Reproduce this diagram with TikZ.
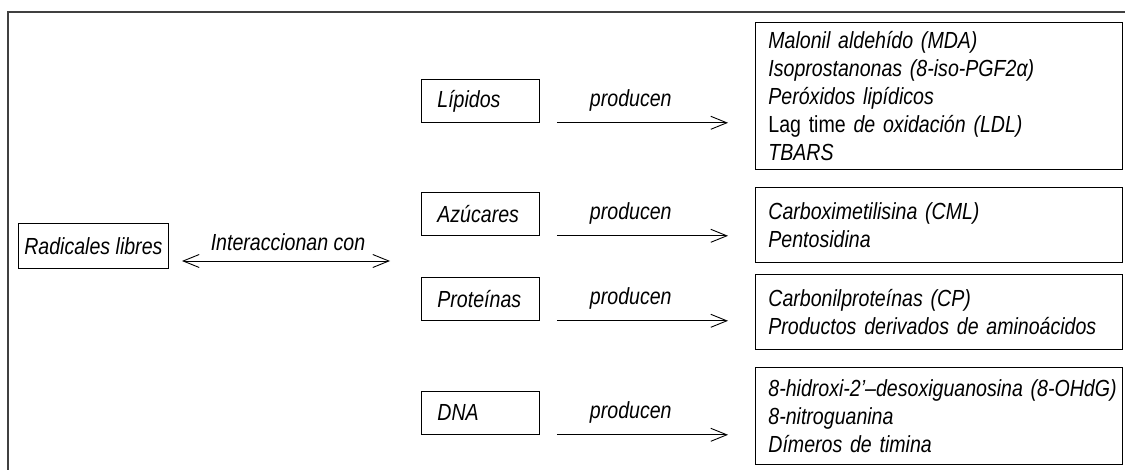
\documentclass[tikz,border=0pt]{standalone}
\usepackage{fontspec}
\setmainfont{Liberation Sans}[FakeStretch=0.84]
\usetikzlibrary{arrows.meta}
\tikzset{
  every node/.style={font=\fontsize{23.3}{28}\selectfont\itshape, text=black},
  lbox/.style={draw, line width=0.8pt, anchor=north west, minimum height=43pt,
    text width=86pt, inner xsep=16pt, align=left},
  pbox/.style={draw, line width=0.8pt, anchor=north west, text width=341pt,
    inner xsep=13pt, align=left},
  arr/.style={line width=0.9pt, -{Straight Barb[length=16pt,width=13pt,line width=0.9pt]}},
  darr/.style={line width=0.9pt, {Straight Barb[length=16pt,width=13pt,line width=0.9pt]}-{Straight Barb[length=16pt,width=13pt,line width=0.9pt]}},
  lbl/.style={anchor=base}
}
\begin{document}
\begin{tikzpicture}[x=1pt,y=-1pt]
\useasboundingbox (0,0) rectangle (1125,470);
% outer frame (only top and left visible)
\draw[line width=1.3pt, black!75] (1125,12) -- (8,12) -- (8,470);

% left node
\node[draw, line width=0.8pt, anchor=north west, minimum width=150pt, minimum height=45pt, inner xsep=4pt] (rad) at (18,223) {Radicales libres};

% middle boxes
\node[lbox] (lip) at (421,79) {Lípidos};
\node[lbox] (azu) at (421,192) {Azúcares};
\node[lbox] (pro) at (421,277) {Proteínas};
\node[lbox] (dna) at (421,391) {DNA};

% product boxes
\node[pbox, minimum height=147pt] (plip) at (755,22) {Malonil aldehído (MDA)\\Isoprostanonas (8-iso-PGF2α)\\Peróxidos lipídicos\\{\upshape Lag time} de oxidación (LDL)\\TBARS};
\node[pbox, minimum height=75pt] (pazu) at (755,187) {Carboximetilisina (CML)\\Pentosidina};
\node[pbox, minimum height=75pt] (ppro) at (755,274) {Carbonilproteínas (CP)\\Productos derivados de aminoácidos};
\node[pbox, minimum height=97pt] (pdna) at (755,367) {\mbox{8-hidroxi-2’–desoxiguanosina (8-OHdG)}\\8-nitroguanina\\Dímeros de timina};

% interaction arrow
\coordinate (istart) at (182,261);
\coordinate (iend) at (390,261);
\draw[darr] (istart) -- (iend);
\node[lbl] (ilbl) at (288,251) {Interaccionan con};

% producen arrows
\foreach \src/\dst in {lip/plip, azu/pazu, pro/ppro, dna/pdna}{
  \draw[arr] ([xshift=17pt]\src.south east) -- ([xshift=-27pt]\src.south east -| \dst.west);
  \node[lbl] (\src lbl) at ([xshift=91pt,yshift=16pt]\src.south east) {producen};
}
\end{tikzpicture}
\end{document}
